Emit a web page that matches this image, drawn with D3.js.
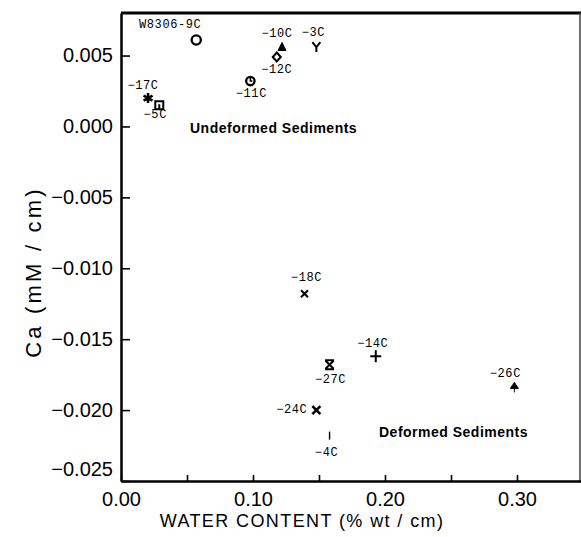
<!DOCTYPE html>
<html>
<head>
<meta charset="utf-8">
<script src="https://cdn.jsdelivr.net/npm/d3@7"></script>
<style>
  body { margin: 0; background: #fff; }
  svg { display: block; }
</style>
</head>
<body>
<script>
// samples (core ids) and their gradients
var sampleLabels = ["W8306-9C", "-10C", "-3C", "-12C", "-11C", "-17C", "-5C",
                    "-18C", "-14C", "-27C", "-26C", "-24C", "-4C"];
var waterContent = [0.057, 0.122, 0.148, 0.118, 0.098, 0.0205, 0.029,
                    0.139, 0.193, 0.158, 0.298, 0.148, 0.158];
var caGradient   = [0.0061, 0.0056, 0.0056, 0.0049, 0.0032, 0.0020, 0.0015,
                    -0.0118, -0.0162, -0.0168, -0.0184, -0.0200, -0.0218];
var markerTypes  = ["ring", "triangle", "wye", "diamond", "ringTick", "asterisk", "square",
                    "cross", "plus", "hourglass", "spade", "crossBold", "bar"];

var xTicks = [0, 0.05, 0.10, 0.15, 0.20, 0.25, 0.30];
var xTickLabels = ["0.00", "", "0.10", "", "0.20", "", "0.30"];
var yTicks = [0.005, 0, -0.005, -0.010, -0.015, -0.020, -0.025];

// where each sample label sits relative to its marker (dx, dy, anchor)
var labelOffsets = [[-26, -12, "middle"], [-5, -10, "middle"], [-3, -11, "middle"],
                    [0, 16, "middle"], [1, 16, "middle"], [-5, -9, "middle"], [-4, 13, "middle"],
                    [2, -13, "middle"], [-3, -9, "middle"], [1, 18, "middle"], [-9, -10, "middle"],
                    [-9, 3, "end"], [-3, 20, "middle"]];

var w = 581;
var h = 537;

var svg = d3.select("body")
            .append("svg")
            .attr("width", w)
            .attr("height", h);

var x = d3.scaleLinear().domain([0, 0.35]).range([121, 583]);
var y = d3.scaleLinear().domain([-0.025, 0.008]).range([481, 13]);

// frame: top and right edges
svg.append("line")
   .attr("x1", x(0)).attr("x2", x(0.35))
   .attr("y1", y(0.008)).attr("y2", y(0.008))
   .attr("stroke", "#000").attr("stroke-width", 3);
svg.append("line")
   .attr("x1", 580).attr("x2", 580)
   .attr("y1", y(0.008)).attr("y2", y(-0.025))
   .attr("stroke", "#444").attr("stroke-width", 1.5);

// axes, ticks pointing inwards
var xAxis = d3.axisBottom(x)
              .tickValues(xTicks)
              .tickFormat(function(d, i) { return xTickLabels[i]; })
              .tickSizeInner(-6)
              .tickSizeOuter(0)
              .tickPadding(11);

var yAxis = d3.axisLeft(y)
              .tickValues(yTicks)
              .tickFormat(d3.format(".3f"))
              .tickSizeInner(-9)
              .tickSizeOuter(0)
              .tickPadding(8);

var gx = svg.append("g")
            .attr("transform", "translate(0," + y(-0.025) + ")")
            .call(xAxis);
var gy = svg.append("g")
            .attr("transform", "translate(" + x(0) + ",0)")
            .call(yAxis);

[gx, gy].forEach(function(g) {
  g.select(".domain").attr("stroke", "#000").attr("stroke-width", 2.5);
  g.selectAll(".tick line").attr("stroke", "#000").attr("stroke-width", 1.6);
  g.selectAll(".tick text")
   .attr("fill", "#000")
   .attr("font-family", "'Liberation Sans', Arial, sans-serif")
   .attr("font-size", "20px");
});

// bottom y label sits a bit higher in the original
gy.selectAll(".tick text")
  .filter(function(d) { return d === -0.025; })
  .attr("dy", "-0.3em");

// axis titles
svg.append("text")
   .attr("x", 302)
   .attr("y", 527)
   .attr("text-anchor", "middle")
   .attr("font-family", "'Liberation Sans', Arial, sans-serif")
   .attr("font-size", "18px")
   .attr("letter-spacing", "1.4px")
   .text("WATER CONTENT (% wt / cm)");

svg.append("text")
   .attr("transform", "translate(41,272) rotate(-90)")
   .attr("text-anchor", "middle")
   .attr("font-family", "'Liberation Sans', Arial, sans-serif")
   .attr("font-size", "22px")
   .attr("letter-spacing", "3.2px")
   .text("Ca  (mM / cm)");

// markers
function markerPath(type) {
  switch (type) {
    case "triangle":  return "M0,-4.5L4,3.5L-4,3.5Z";
    case "wye":       return "M-4,-5L0,0L4,-5M0,0L0,5";
    case "diamond":   return "M0,-4.5L4,0L0,4.5L-4,0Z";
    case "square":    return "M-4,-4H4V4H-4Z M0,-1V3";
    case "cross":     return "M-3.5,-3.5L3.5,3.5M3.5,-3.5L-3.5,3.5";
    case "crossBold": return "M-4,-4L4,4M4,-4L-4,4";
    case "plus":      return "M-5.5,0H5.5M0,-6V6";
    case "hourglass": return "M-4.5,-4.5H4.5M-4.5,4.5H4.5M-4,-4L4,4M4,-4L-4,4";
    case "spade":     return "M0,-5L4,1L-4,1Z M0,0V5";
    case "bar":       return "M0,-4V4";
    case "asterisk":  return "M0,-5V5M-4.5,-2.5L4.5,2.5M-4.5,2.5L4.5,-2.5";
  }
  return null;
}

var marks = svg.selectAll("g.mark")
               .data(sampleLabels)
               .enter()
               .append("g")
               .attr("class", "mark")
               .attr("transform", function(d, i) {
                 return "translate(" + x(waterContent[i]) + "," + y(caGradient[i]) + ")";
               });

marks.each(function(d, i) {
  var g = d3.select(this);
  var type = markerTypes[i];
  if (type === "ring" || type === "ringTick") {
    g.append("circle")
     .attr("r", type === "ring" ? 4.6 : 4.2)
     .attr("fill", "none")
     .attr("stroke", "#000")
     .attr("stroke-width", 2.3);
    if (type === "ringTick") {
      g.append("path").attr("d", "M0,-4V0H2")
       .attr("fill", "none").attr("stroke", "#000").attr("stroke-width", 1.5);
    }
    return;
  }
  var filled = type === "triangle" || type === "spade";
  g.append("path")
   .attr("d", markerPath(type))
   .attr("fill", filled ? "#000" : "none")
   .attr("stroke", "#000")
   .attr("stroke-width", type === "crossBold" || type === "asterisk" ? 2.6 :
                          type === "bar" ? 1.4 : filled ? 1 : 2)
   .attr("stroke-linejoin", "miter");
});

// sample labels
svg.selectAll("text.sample")
   .data(sampleLabels)
   .enter()
   .append("text")
   .attr("class", "sample")
   .attr("x", function(d, i) { return x(waterContent[i]) + labelOffsets[i][0]; })
   .attr("y", function(d, i) { return y(caGradient[i]) + labelOffsets[i][1]; })
   .attr("text-anchor", function(d, i) { return labelOffsets[i][2]; })
   .attr("font-family", "'Liberation Mono', 'DejaVu Sans Mono', monospace")
   .attr("font-size", "12px")
   .attr("letter-spacing", "0.6px")
   .attr("fill", "#000")
   .text(function(d) { return d.replace(/^-/, "\u2212"); });

// region annotations
svg.append("text")
   .attr("x", 190).attr("y", 133)
   .attr("font-family", "'Liberation Sans', Arial, sans-serif")
   .attr("font-size", "14px")
   .attr("font-weight", "bold")
   .attr("letter-spacing", "0.5px")
   .text("Undeformed Sediments");

svg.append("text")
   .attr("x", 379).attr("y", 437)
   .attr("font-family", "'Liberation Sans', Arial, sans-serif")
   .attr("font-size", "14px")
   .attr("font-weight", "bold")
   .attr("letter-spacing", "0.5px")
   .text("Deformed Sediments");
</script>
</body>
</html>
